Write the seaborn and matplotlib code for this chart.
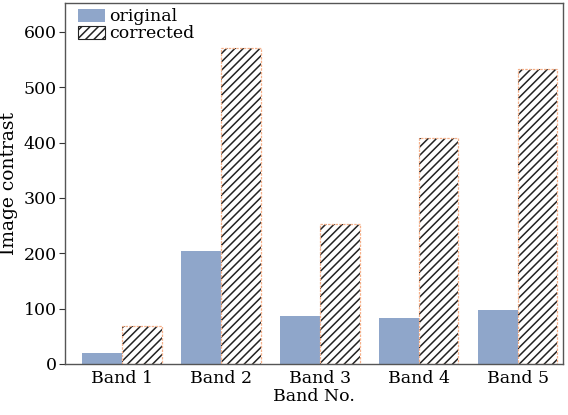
import matplotlib
matplotlib.use("Agg")
import matplotlib.pyplot as plt
from matplotlib.patches import Patch, Rectangle
import seaborn as sns
import pandas as pd

bands = ["Band 1", "Band 2", "Band 3", "Band 4", "Band 5"]
original = [20, 204, 86, 83, 98]
corrected = [68, 571, 253, 409, 532]
y_ticks = [0, 100, 200, 300, 400, 500, 600]

blue = "#8fa6ca"
edge_orange = "#f5b08a"
hatch = "////"

df = pd.DataFrame({
    "Band No.": bands * 2,
    "Image contrast": original + corrected,
    "series": ["original"] * len(bands) + ["corrected"] * len(bands),
})

sns.set_theme(style="ticks")
plt.rcParams["font.family"] = ["DejaVu Serif"]
plt.rcParams["hatch.linewidth"] = 1.1

fig = plt.figure(figsize=(5.68, 4.15), dpi=100)
ax = fig.add_axes([0.1144, 0.1229, 0.8766, 0.8699])

sns.barplot(data=df, x="Band No.", y="Image contrast", hue="series",
            palette=[blue, "white"], saturation=1, width=0.8, gap=0,
            linewidth=0, ax=ax, legend=False, errorbar=None)

# second half of the patches belongs to the "corrected" series
bars = [p for p in ax.patches]
n = len(bands)
for p in bars[n:]:
    p.set_hatch(hatch)
    p.set_edgecolor("#222222")
    p.set_linewidth(0)
    ax.add_patch(Rectangle(p.get_xy(), p.get_width(), p.get_height(),
                           fill=False, edgecolor=edge_orange, lw=0.9,
                           linestyle=(0, (2, 1))))

ax.set_ylim(0, 652)
ax.set_xlim(-0.576, 4.455)
ax.set_yticks(y_ticks)
ax.tick_params(axis="y", direction="out", length=4, width=0.8, labelsize=12.5,
               colors="#333333", labelcolor="black", pad=2)
ax.tick_params(axis="x", length=0, labelsize=12.5, pad=4, labelcolor="black")
for s in ax.spines.values():
    s.set_color("#555555")
    s.set_linewidth(1.0)
ax.set_xlabel("Band No.", fontsize=12.5, labelpad=1, color="black")
ax.set_ylabel("Image contrast", fontsize=13.5, labelpad=4, color="black")

handles = [
    Patch(facecolor=blue, edgecolor="none", label="original"),
    Patch(facecolor="white", edgecolor=edge_orange, hatch=hatch, linewidth=0.8,
          label="corrected"),
]
leg = ax.legend(handles=handles, loc="upper left", frameon=False, fontsize=12.5,
                handlelength=1.6, handleheight=0.75, handletextpad=0.2,
                labelspacing=0.0, borderaxespad=0.2, borderpad=0.1,
                bbox_to_anchor=(0.015, 1.0))
for t in leg.get_texts():
    t.set_color("black")
# hatch lines of the legend swatch drawn in black
leg.legend_handles[1].set_edgecolor("#222222")

fig.savefig("out.png", dpi=100)
